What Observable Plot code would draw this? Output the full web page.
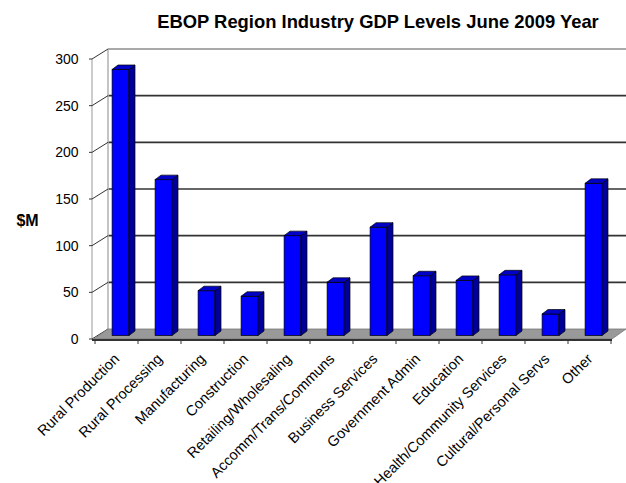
<!DOCTYPE html>
<html>
<head>
<meta charset="utf-8">
<script src="https://cdn.jsdelivr.net/npm/d3@7"></script>
<script src="https://cdn.jsdelivr.net/npm/@observablehq/plot@0.6"></script>
<style>
  html, body { margin: 0; padding: 0; background: #fff; }
  #wrap { width: 626px; height: 483px; position: relative; overflow: hidden; font-family: "Liberation Sans", Arial, sans-serif; }
  #title { height: 35px; font-weight: bold; font-size: 18.4px; text-align: center; padding-left: 130px; box-sizing: border-box; width: 626px; padding-top: 9px; line-height: 26px;}
  svg { display: block; }
  svg g[aria-label^="x-axis"] { font-size: 14.6px; }
</style>
</head>
<body>
<div id="wrap">
  <div id="title">EBOP Region Industry GDP Levels June 2009 Year</div>
  <div id="chart"></div>
</div>
<script>
const categories = [
  "Rural Production", "Rural Processing", "Manufacturing", "Construction",
  "Retailing/Wholesaling", "Accomm/Trans/Communs", "Business Services",
  "Government Admin", "Education", "Health/Community Services",
  "Cultural/Personal Servs", "Other"
];
const values = [285, 167, 48, 42, 107, 57, 116, 64, 59, 65, 23, 163];
const yTicks = [0, 50, 100, 150, 200, 250, 300];
const yLabel = "$M";

const data = categories.map((c, i) => ({category: c, value: values[i]}));

// 3D geometry (pixels)
const WALL_DX = 14, WALL_DY = -10;   // depth of floor / walls
const BAR_W = 17;                    // front face width
const BAR_OX = 4, BAR_OY = -3.5;     // bar front offset into depth
const BAR_DX = 6, BAR_DY = -4.5;     // bar depth

function walls(index, scales, channels, dims) {
  const {x, y} = scales;
  const L = dims.marginLeft, R = dims.width - dims.marginRight;
  const y0 = y(0);
  const g = d3.create("svg:g");
  g.append("rect")
    .attr("x", L + WALL_DX).attr("y", y(300) + WALL_DY)
    .attr("width", R - L).attr("height", y0 - y(300))
    .attr("fill", "#fff");
  for (const t of yTicks) {
    if (t === 0) continue;
    g.append("line")
      .attr("x1", L + WALL_DX).attr("x2", R + WALL_DX)
      .attr("y1", y(t) + WALL_DY).attr("y2", y(t) + WALL_DY)
      .attr("stroke", t === 300 ? "#8c8c8c" : "#333")
      .attr("stroke-width", 1.6);
  }
  g.append("line")
    .attr("x1", L + WALL_DX).attr("x2", L + WALL_DX)
    .attr("y1", y(300) + WALL_DY).attr("y2", y0 + WALL_DY)
    .attr("stroke", "#b0b0b0").attr("stroke-width", 1.5);
  g.append("line")
    .attr("x1", L - 2).attr("x2", L - 2)
    .attr("y1", y(300)).attr("y2", y0)
    .attr("stroke", "#999").attr("stroke-width", 1);
  for (const t of yTicks) {
    g.append("line")
      .attr("x1", L - 2).attr("x2", L + WALL_DX)
      .attr("y1", y(t)).attr("y2", y(t) + WALL_DY)
      .attr("stroke", "#333").attr("stroke-width", 1);
    g.append("line")
      .attr("x1", L - 5).attr("x2", L - 2)
      .attr("y1", y(t)).attr("y2", y(t))
      .attr("stroke", "#333").attr("stroke-width", 1);
  }
  g.append("path")
    .attr("d", `M${L},${y0}L${R},${y0}L${R + WALL_DX},${y0 + WALL_DY}L${L + WALL_DX},${y0 + WALL_DY}Z`)
    .attr("fill", "#999").attr("stroke", "#777").attr("stroke-width", 0.8);
  g.append("line")
    .attr("x1", L - 2).attr("x2", R)
    .attr("y1", y0 + 1).attr("y2", y0 + 1)
    .attr("stroke", "#333").attr("stroke-width", 2);
  const bw = x.bandwidth ? x.bandwidth() : (R - L) / categories.length;
  for (let i = 0; i <= categories.length; i++) {
    const xx = i < categories.length ? x(categories[i]) : x(categories[i - 1]) + bw;
    g.append("line")
      .attr("x1", xx).attr("x2", xx)
      .attr("y1", y0 + 1).attr("y2", y0 + 5)
      .attr("stroke", "#333").attr("stroke-width", 1);
  }
  return g.node();
}

function barSides(index, scales, channels, dims) {
  const {x, y} = scales;
  const bw = x.bandwidth ? x.bandwidth() : 43;
  const g = d3.create("svg:g");
  for (const d of data) {
    const x0 = x(d.category) + (bw - BAR_W) / 2 + BAR_OX;
    const x1 = x0 + BAR_W;
    const yt = y(d.value) + BAR_OY;
    const yb = y(0) + BAR_OY;
    g.append("path")
      .attr("d", `M${x1},${yt}L${x1 + BAR_DX},${yt + BAR_DY}L${x1 + BAR_DX},${yb + BAR_DY}L${x1},${yb}Z`)
      .attr("fill", "#000099").attr("stroke", "#000").attr("stroke-width", 0.7).attr("stroke-linejoin", "round");
    g.append("path")
      .attr("d", `M${x0},${yt}L${x1},${yt}L${x1 + BAR_DX},${yt + BAR_DY}L${x0 + BAR_DX},${yt + BAR_DY}Z`)
      .attr("fill", "#0000c8").attr("stroke", "#000").attr("stroke-width", 0.7).attr("stroke-linejoin", "round");
  }
  return g.node();
}

const chart = Plot.plot({
  width: 626,
  height: 448,
  marginLeft: 94,
  marginRight: 14,
  marginTop: 24,
  marginBottom: 144,
  style: {
    fontFamily: '"Liberation Sans", Arial, sans-serif',
    fontSize: "14px",
    color: "#000",
    background: "#fff",
    overflow: "visible"
  },
  x: {domain: categories, padding: 0, tickSize: 0, tickRotate: -45, tickPadding: 17, label: null},
  y: {domain: [0, 300], ticks: yTicks, tickSize: 0, tickPadding: 16, label: null},
  marks: [
    walls,
    Plot.barY(data, {
      x: "category", y: "value",
      insetLeft: (43.17 - BAR_W) / 2, insetRight: (43.17 - BAR_W) / 2,
      dx: BAR_OX, dy: BAR_OY,
      fill: "#0000ff", stroke: "#000", strokeWidth: 0.7
    }),
    barSides,
    Plot.text([yLabel], {
      frameAnchor: "left", dx: -67, dy: 21,
      textAnchor: "middle", fontWeight: "bold", fontSize: 16
    })
  ]
});
document.getElementById("chart").appendChild(chart);
</script>
</body>
</html>
